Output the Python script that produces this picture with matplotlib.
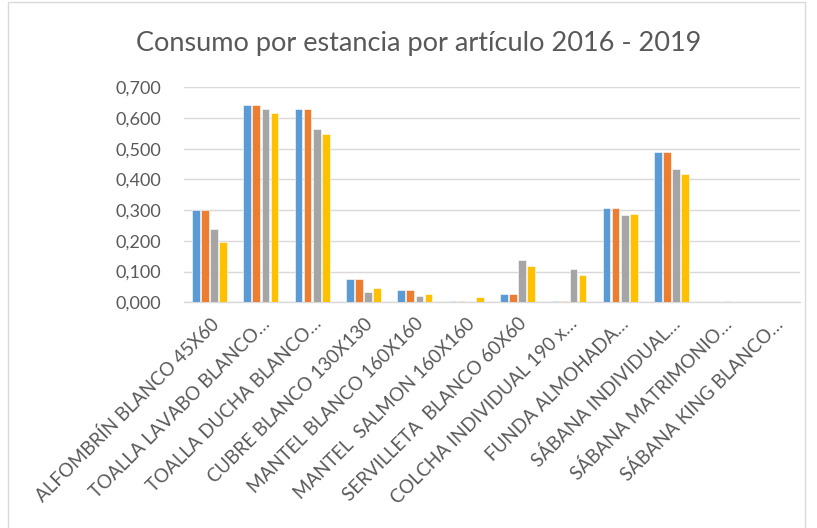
import matplotlib
matplotlib.use("Agg")
import matplotlib.pyplot as plt
import numpy as np
from matplotlib.ticker import FuncFormatter
from matplotlib.patches import Rectangle

# datos
articulos = ["ALFOMBRÍN BLANCO 45X60", "TOALLA LAVABO BLANCO…", "TOALLA DUCHA BLANCO…",
             "CUBRE BLANCO 130X130", "MANTEL BLANCO 160X160", "MANTEL  SALMON 160X160",
             "SERVILLETA  BLANCO 60X60", "COLCHA INDIVIDUAL 190 x…", "FUNDA ALMOHADA…",
             "SÁBANA INDIVIDUAL…", "SÁBANA MATRIMONIO…", "SÁBANA KING BLANCO…"]
anios = ["2016", "2017", "2018", "2019"]
v2016 = [0.300, 0.642, 0.630, 0.076, 0.040, 0.004, 0.028, 0.004, 0.306, 0.489, 0.002, 0.001]
v2017 = [0.300, 0.642, 0.630, 0.076, 0.040, 0.004, 0.028, 0.004, 0.306, 0.489, 0.001, 0.000]
v2018 = [0.239, 0.628, 0.564, 0.033, 0.020, 0.000, 0.138, 0.107, 0.284, 0.433, 0.003, 0.000]
v2019 = [0.197, 0.616, 0.548, 0.046, 0.027, 0.017, 0.118, 0.088, 0.288, 0.418, 0.000, 0.001]
colores = ["#5B9BD5", "#ED7D31", "#A5A5A5", "#FFC000"]

plt.rcParams['font.family'] = ['Lato', 'DejaVu Sans']
gris_txt = "#595959"

fig = plt.figure(figsize=(8.17, 5.28), dpi=100)
ax = fig.add_axes([0.225, 0.4275, 0.754, 0.4072])

x = np.arange(len(articulos))
slot = 0.178
for i, (serie, col) in enumerate(zip([v2016, v2017, v2018, v2019], colores)):
    ax.bar(x + (i - 1.5) * slot, serie, width=slot * 0.85, color=col,
           edgecolor="white", linewidth=0.4, label=anios[i], zorder=3)

ax.set_xlim(-0.5, len(articulos) - 0.5)
ax.set_ylim(0, 0.7)
ax.set_yticks(np.arange(0, 0.71, 0.1))
ax.yaxis.set_major_formatter(FuncFormatter(lambda v, p: f"{v:.3f}".replace(".", ",")))
ax.grid(axis="y", color="#D9D9D9", linewidth=1.0, zorder=0)
for s in ["top", "right", "left"]:
    ax.spines[s].set_visible(False)
ax.spines["bottom"].set_color("#D9D9D9")
ax.spines["bottom"].set_linewidth(1.0)
ax.tick_params(axis="both", length=0, colors=gris_txt, labelsize=13)
ax.tick_params(axis="y", pad=16)
ax.tick_params(axis="x", pad=9)

ax.set_xticks(x)
ax.set_xticklabels(articulos, rotation=45, ha="right", rotation_mode="anchor",
                   fontsize=13.5, color=gris_txt)

fig.text(0.513, 1 - 44 / 528, "Consumo por estancia por artículo 2016 - 2019",
         ha="center", va="center", fontsize=19.5, color=gris_txt)

# marco del grafico
fig.patches.append(Rectangle((8 / 817, -0.01), 797 / 817, 1.0 - 2 / 528 + 0.01,
                             transform=fig.transFigure, fill=False,
                             edgecolor="#D9D9D9", linewidth=1))

fig.savefig("out.png", dpi=100)
